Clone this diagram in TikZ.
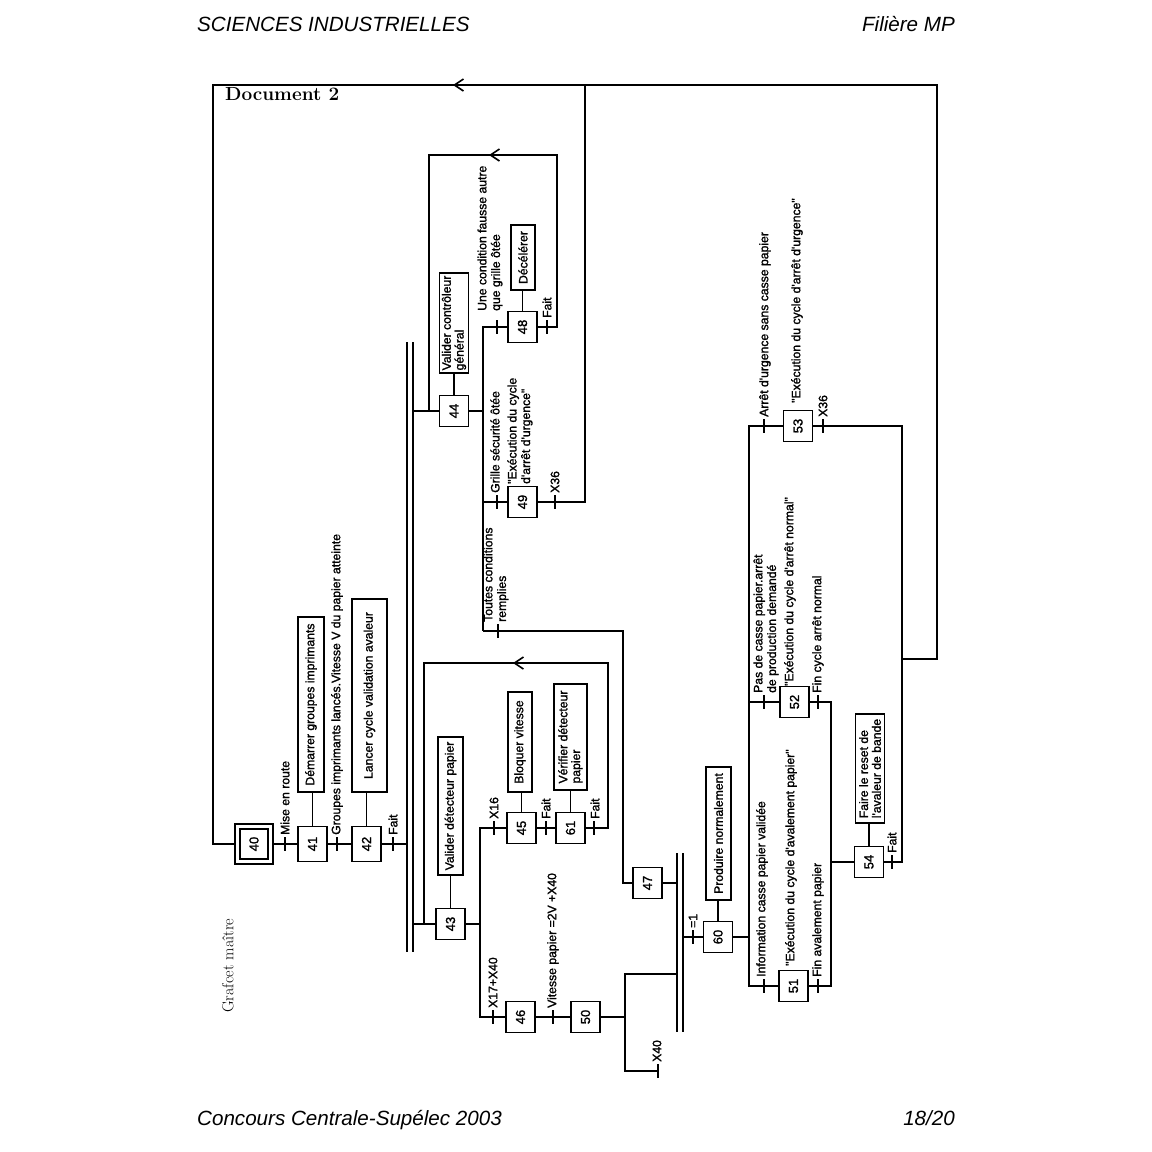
\documentclass[tikz,border=0pt]{standalone}
\usepackage{fontspec}
\newfontfamily\hv[FakeBold=1.5]{Liberation Sans}
\newfontfamily\hvi{Liberation Sans}
\usetikzlibrary{arrows.meta}
\newcommand\tkk[2]{\draw[tk] (#1,#2-7) -- (#1,#2+7);}
\begin{document}
\begin{tikzpicture}[x=1pt,y=-1pt,
  lnk/.style={line width=1.2pt},
  tk/.style={line width=1.4pt},
  stp/.style={draw, line width=1.7pt, minimum width=29pt, minimum height=31pt, inner sep=0pt, font=\hv\fontsize{13}{13}\selectfont},
  act/.style={draw, rotate=90, line width=1.3pt, inner sep=0.5pt, align=left, font=\hv\fontsize{12.2}{12.8}\selectfont},
  lbl/.style={rotate=90, anchor=west, inner sep=0pt, align=left, font=\hv\fontsize{12.2}{13.6}\selectfont},
  arr/.style={-{Straight Barb[length=9pt,width=12pt,line width=1.6pt]}, line width=1.2pt},
  hdr/.style={inner sep=0pt, font=\hvi\itshape\fontsize{20.6}{24}\selectfont}
]
\useasboundingbox (0,0) rectangle (1152,1152);

% header / footer
\node[hdr, anchor=base west] (h1) at (197,31) {SCIENCES INDUSTRIELLES};
\node[hdr, anchor=base east] (h2) at (955,31) {Filière MP};
\node[hdr, anchor=base west] (f1) at (197,1125) {Concours Centrale-Supélec 2003};
\node[hdr, anchor=base east] (f2) at (955,1125) {18/20};
\node[anchor=base west, inner sep=0pt, font=\bfseries\fontsize{19}{21}\selectfont] (doc) at (225,100) {Document 2};
\node[rotate=90, anchor=west, inner sep=0pt, font=\fontsize{16}{18}\selectfont] (gm) at (228,1013) {Grafcet maître};

% steps
\node[stp, minimum width=38pt, minimum height=40pt] (s40) at (254,844) {};
\node[draw, line width=1.6pt, minimum width=28pt, minimum height=30pt, inner sep=0pt, font=\hv\fontsize{13}{13}\selectfont] (s40i) at (254,844) {\rotatebox{90}{40}};
\node[stp, minimum height=35pt] (s41) at (312.5,844) {\rotatebox{90}{41}};
\node[stp, minimum height=35pt] (s42) at (366.5,844) {\rotatebox{90}{42}};
\node[stp] (s43) at (450.5,924) {\rotatebox{90}{43}};
\node[stp] (s44) at (454,411) {\rotatebox{90}{44}};
\node[stp] (s45) at (521.5,828) {\rotatebox{90}{45}};
\node[stp] (s61) at (570.5,828) {\rotatebox{90}{61}};
\node[stp] (s46) at (520.5,1017) {\rotatebox{90}{46}};
\node[stp] (s50) at (585.5,1017) {\rotatebox{90}{50}};
\node[stp] (s47) at (647.5,883) {\rotatebox{90}{47}};
\node[stp] (s48) at (522.5,327) {\rotatebox{90}{48}};
\node[stp] (s49) at (522.5,502) {\rotatebox{90}{49}};
\node[stp] (s60) at (718,937) {\rotatebox{90}{60}};
\node[stp] (s51) at (793.5,986) {\rotatebox{90}{51}};
\node[stp] (s52) at (794.5,702) {\rotatebox{90}{52}};
\node[stp] (s53) at (798,426) {\rotatebox{90}{53}};
\node[stp] (s54) at (869,862) {\rotatebox{90}{54}};

% actions
\node[act, minimum width=175pt, minimum height=26pt] (a41) at (311,704.5) {Démarrer groupes imprimants};
\node[act, minimum width=193pt, minimum height=35pt] (a42) at (369.5,695.5) {Lancer cycle validation avaleur};
\node[act, minimum width=138pt, minimum height=25pt] (a43) at (450.5,806) {Valider détecteur papier};
\node[act, minimum width=100pt, minimum height=29pt] (a44) at (454,323) {Valider contrôleur\\général};
\node[act, minimum width=65pt, minimum height=24pt] (a48) at (523,257.5) {Décélérer};
\node[act, minimum width=100pt, minimum height=24pt] (a45) at (520,742) {Bloquer vitesse};
\node[act, minimum width=106pt, minimum height=33pt] (a61) at (570.5,737) {Vérifier détecteur\\papier};
\node[act, minimum width=133pt, minimum height=25pt] (a60) at (718.5,833.5) {Produire normalement};
\node[act, minimum width=109pt, minimum height=29pt] (a54) at (870,768.5) {Faire le reset de\\l'avaleur de bande};

\foreach \s/\a in {s41/a41,s42/a42,s43/a43,s44/a44,s48/a48,s45/a45,s61/a61,s60/a60,s54/a54}
  \draw[lnk] (\s.north) -- (\s.north |- \a.west);

% main loop
\draw[lnk] (s40.west) -- (213,844) -- (213,85) -- (937,85) -- (937,659) -- (902,659);
\draw[arr] (468,85) -- (453,85);

% initial sequence
\draw[lnk] (s40.east) -- (s41.west);
\draw[lnk] (s41.east) -- (s42.west);
\draw[lnk] (s42.east) -- (407,844);
\tkk{285}{844}\tkk{337}{844}\tkk{393}{844}

% double bar 1
\draw[lnk] (407,342) -- (407,952);
\draw[lnk] (413,342) -- (413,952);
\draw[lnk] (413,411) -- (s44.west);
\draw[lnk] (413,924) -- (s43.west);

% loop 44
\draw[lnk] (s48.east) -- (557,327) -- (557,155) -- (429,155) -- (429,411);
\draw[arr] (503,155) -- (489,155);
\tkk{547}{327}

% loop 43
\draw[lnk] (s61.east) -- (608,828) -- (608,663) -- (424,663) -- (424,924);
\draw[arr] (527,663) -- (513,663);
\tkk{594}{828}

% branch after 43
\draw[lnk] (s43.east) -- (480,924);
\draw[lnk] (s45.west) -- (480,828) -- (480,1017) -- (s46.west);
\tkk{494}{828}\tkk{493}{1017}
\draw[lnk] (s45.east) -- (s61.west);
\tkk{546}{828}
\draw[lnk] (s46.east) -- (s50.west);
\tkk{553}{1017}
\draw[lnk] (s50.east) -- (625,1017);
\draw[lnk] (677,974) -- (625,974) -- (625,1071) -- (658,1071);
\tkk{658}{1071}

% double bar 2
\draw[lnk] (677,853) -- (677,1032);
\draw[lnk] (683,853) -- (683,1032);
\draw[lnk] (s47.east) -- (677,883);
\draw[lnk] (s47.west) -- (623,883) -- (623,631) -- (483,631);
\tkk{498}{631}

% branch after 44
\draw[lnk] (s44.east) -- (483,411);
\draw[lnk] (s48.west) -- (483,327) -- (483,631);
\draw[lnk] (483,502) -- (s49.west);
\tkk{497}{327}\tkk{497}{502}
\draw[lnk] (s49.east) -- (585,502) -- (585,85);
\tkk{555}{502}

% step 60 and after
\draw[lnk] (683,937) -- (s60.west);
\tkk{693}{937}
\draw[lnk] (s60.east) -- (749,937);
\draw[lnk] (s53.west) -- (749,426) -- (749,986) -- (s51.west);
\draw[lnk] (749,702) -- (s52.west);
\tkk{764}{986}\tkk{764}{702}\tkk{764}{426}
\draw[lnk] (s51.east) -- (831,986) -- (831,702) -- (s52.east);
\tkk{818}{986}\tkk{818}{702}
\draw[lnk] (831,862) -- (s54.west);
\draw[lnk] (s54.east) -- (902,862) -- (902,426) -- (s53.east);
\tkk{892}{862}\tkk{823}{426}

% transition labels
\node[lbl] (t1) at (285,835) {Mise en route};
\node[lbl] (t2) at (337,835) {Groupes imprimants lancés.Vitesse V du papier atteinte};
\node[lbl] (t3) at (393,835) {Fait};
\node[lbl] (t4) at (494,819) {X16};
\node[lbl] (t5) at (546,819) {Fait};
\node[lbl] (t6) at (595,819) {Fait};
\node[lbl] (t7) at (493,1008) {X17+X40};
\node[lbl] (t8) at (553,1008) {Vitesse papier =2V +X40};
\node[lbl] (t9) at (657,1062) {X40};
\node[lbl] (t10) at (693,928) {=1};
\node[lbl] (t11) at (490,311) {Une condition fausse autre\\que grille ôtée};
\node[lbl] (t12) at (547,318) {Fait};
\node[lbl] (t13) at (495,493) {Grille sécurité ôtée};
\node[lbl] (t14) at (496,622) {Toutes conditions\\remplies};
\node[lbl] (t15) at (520,484) {"Exécution du cycle\\d'arrêt d'urgence"};
\node[lbl] (t16) at (555,493) {X36};
\node[lbl] (t17) at (762,977) {Information casse papier validée};
\node[lbl] (t18) at (791,966) {"Exécution du cycle d'avalement papier"};
\node[lbl] (t19) at (818,977) {Fin avalement papier};
\node[lbl] (t20) at (766,693) {Pas de casse papier.arrêt\\de production demandé};
\node[lbl] (t21) at (790,686) {"Exécution du cycle d'arrêt normal"};
\node[lbl] (t22) at (818,693) {Fin cycle arrêt normal};
\node[lbl] (t23) at (892,853) {Fait};
\node[lbl] (t24) at (765,417) {Arrêt d'urgence sans casse papier};
\node[lbl] (t25) at (797,403) {"Exécution du cycle d'arrêt d'urgence"};
\node[lbl] (t26) at (823,417) {X36};
\end{tikzpicture}
\end{document}
